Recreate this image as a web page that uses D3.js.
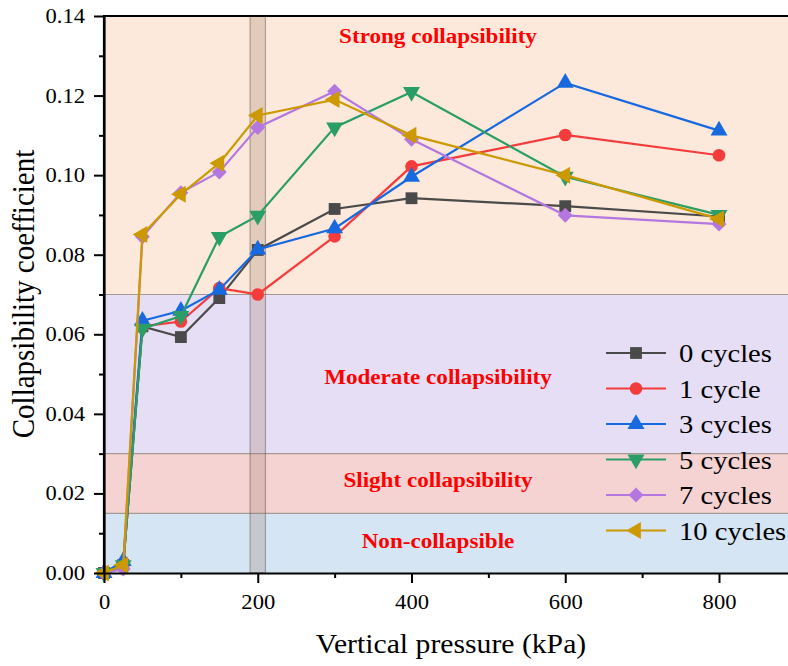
<!DOCTYPE html>
<html>
<head>
<meta charset="utf-8">
<script src="https://cdn.jsdelivr.net/npm/d3@7/dist/d3.min.js"></script>
<style>
  html, body { margin: 0; padding: 0; background: #ffffff; }
  svg { display: block; }
  text { font-family: "Liberation Serif", "Times New Roman", serif; fill: #000; }
</style>
</head>
<body>
<svg id="chart" width="788" height="666"></svg>
<script>
// Vertical pressure steps (kPa)
const pressures = [0, 25, 50, 100, 150, 200, 300, 400, 600, 800];

// Collapsibility coefficient for each number of wet-dry cycles
const cycles0  = [0.000, 0.002, 0.062, 0.0593, 0.0691, 0.0812, 0.0915, 0.0942, 0.0922, 0.0896];
const cycles1  = [0.000, 0.002, 0.062, 0.0632, 0.0716, 0.0700, 0.0846, 0.1022, 0.1101, 0.1050];
const cycles3  = [0.000, 0.003, 0.0634, 0.0659, 0.0712, 0.0813, 0.0866, 0.0996, 0.1232, 0.1112];
const cycles5  = [0.000, 0.002, 0.0614, 0.0646, 0.0845, 0.0898, 0.1120, 0.1209, 0.0996, 0.0900];
const cycles7  = [0.000, 0.001, 0.0845, 0.0956, 0.1008, 0.1120, 0.1211, 0.1090, 0.0899, 0.0877];
const cycles10 = [0.000, 0.002, 0.0851, 0.0952, 0.1030, 0.1150, 0.1190, 0.1100, 0.1000, 0.0890];

const seriesNames = ["0 cycles", "1 cycle", "3 cycles", "5 cycles", "7 cycles", "10 cycles"];
const seriesValues = [cycles0, cycles1, cycles3, cycles5, cycles7, cycles10];
const seriesColors = ["#4a4a4a", "#f53c3c", "#1769e0", "#2a9e66", "#b477e0", "#cc9a00"];
const seriesSymbols = ["square", "circle", "triangleUp", "triangleDown", "diamond", "triangleLeft"];

// Collapsibility grade zones
const zoneNames  = ["Non-collapsible", "Slight collapsibility", "Moderate collapsibility", "Strong collapsibility"];
const zoneLower  = [0, 0.015, 0.03, 0.07];
const zoneUpper  = [0.015, 0.03, 0.07, 0.14];
const zoneColors = ["#d5e5f4", "#f5d3d3", "#e6def5", "#fde9db"];

// Highlighted pressure window around 200 kPa
const windowRange = [190, 210];

const xTicks = [0, 200, 400, 600, 800];
const xMinorTicks = [100, 300, 500, 700];
const yTicks = [0, 0.02, 0.04, 0.06, 0.08, 0.10, 0.12, 0.14];
const yMinorTicks = [0.01, 0.03, 0.05, 0.07, 0.09, 0.11, 0.13];

const svg = d3.select("#chart");
const plotLeft = 104, plotTop = 16, plotBottom = 573;
const stretch = 1.1; // glyphs are drawn slightly wide

const x = d3.scaleLinear().domain([0, 900]).range([plotLeft, plotLeft + 900 * (615 / 800)]);
const y = d3.scaleLinear().domain([0, 0.14]).range([plotBottom, plotTop]);
const plotRight = x(900);

// text helper: places a horizontally widened label
function label(parent, tx, ty, str, size, anchor) {
  return parent.append("text")
    .attr("transform", `translate(${tx},${ty}) scale(${stretch},1)`)
    .attr("text-anchor", anchor || "start")
    .style("font-size", size + "px")
    .text(str);
}

// grade zones
const zones = svg.append("g");
zoneLower.forEach((lo, i) => {
  zones.append("rect")
    .attr("x", plotLeft).attr("width", plotRight - plotLeft)
    .attr("y", y(zoneUpper[i])).attr("height", y(lo) - y(zoneUpper[i]))
    .attr("fill", zoneColors[i]);
});
zoneLower.slice(1).forEach(lo => {
  zones.append("line")
    .attr("x1", plotLeft).attr("x2", plotRight)
    .attr("y1", y(lo)).attr("y2", y(lo))
    .attr("stroke", "#a39a94").attr("stroke-width", 1.2);
});

// pressure window
svg.append("rect")
  .attr("x", x(windowRange[0])).attr("width", x(windowRange[1]) - x(windowRange[0]))
  .attr("y", plotTop).attr("height", plotBottom - plotTop)
  .attr("fill", "rgba(150,115,95,0.25)")
  .attr("stroke", "rgba(90,80,80,0.45)").attr("stroke-width", 1.2);

// zone labels: baselines sit at fixed offsets inside each zone
const zoneLabelBaseline = [548, 487, 384, 43];
zoneNames.forEach((name, i) => {
  label(svg, 438, zoneLabelBaseline[i], name, 21, "middle")
    .style("font-weight", "bold").style("fill", "#ff0000");
});

// series lines and markers
const line = d3.line().x((d, i) => x(pressures[i])).y(d => y(d));
const symbolTypes = {
  square: d3.symbolSquare,
  circle: d3.symbolCircle,
  triangleUp: d3.symbolTriangle,
  triangleDown: d3.symbolTriangle,
  diamond: d3.symbolSquare,
  triangleLeft: d3.symbolTriangle
};
const symbolRotate = { square: 0, circle: 0, triangleUp: 0, triangleDown: 180, diamond: 45, triangleLeft: -90 };
const symbolSize = { square: 140, circle: 125, triangleUp: 125, triangleDown: 125, diamond: 112, triangleLeft: 125 };

function drawSymbol(g, type, cx, cy, color) {
  g.append("path")
    .attr("d", d3.symbol().type(symbolTypes[type]).size(symbolSize[type])())
    .attr("transform", `translate(${cx},${cy}) rotate(${symbolRotate[type]})`)
    .attr("fill", color);
}

seriesValues.forEach((vals, s) => {
  const g = svg.append("g");
  g.append("path").datum(vals)
    .attr("d", line).attr("fill", "none")
    .attr("stroke", seriesColors[s]).attr("stroke-width", 2.2);
  vals.forEach((v, i) => drawSymbol(g, seriesSymbols[s], x(pressures[i]), y(v), seriesColors[s]));
});

// axes
const xAxis = svg.append("g").attr("transform", `translate(0,${plotBottom})`)
  .call(d3.axisBottom(x).tickValues(xTicks).tickFormat(d3.format("d")).tickSize(10).tickSizeOuter(0));
svg.append("g").attr("transform", `translate(0,${plotBottom})`)
  .call(d3.axisBottom(x).tickValues(xMinorTicks).tickFormat("").tickSize(5).tickSizeOuter(0))
  .select(".domain").remove();
const yAxis = svg.append("g").attr("transform", `translate(${plotLeft},0)`)
  .call(d3.axisLeft(y).tickValues(yTicks).tickFormat(d3.format(".2f")).tickSize(10).tickSizeOuter(0));
svg.append("g").attr("transform", `translate(${plotLeft},0)`)
  .call(d3.axisLeft(y).tickValues(yMinorTicks).tickFormat("").tickSize(5).tickSizeOuter(0))
  .select(".domain").remove();

svg.selectAll(".domain").attr("stroke", "#000").attr("stroke-width", 2.2);
svg.selectAll(".tick line").attr("stroke", "#000").attr("stroke-width", 2);
xAxis.selectAll(".tick text")
  .attr("y", 21).attr("dy", "0.71em")
  .attr("transform", `scale(${stretch},1)`)
  .style("font-size", "20.5px").style("font-family", "'Liberation Serif', serif");
yAxis.selectAll(".tick text")
  .attr("x", -19 / stretch)
  .attr("transform", `scale(${stretch},1)`)
  .style("font-size", "20.5px").style("font-family", "'Liberation Serif', serif");

// frame lines along the top and left edges
svg.append("line").attr("x1", plotLeft - 1).attr("x2", plotRight).attr("y1", plotTop).attr("y2", plotTop)
  .attr("stroke", "#000").attr("stroke-width", 2.2);
svg.append("line").attr("x1", plotLeft).attr("x2", plotLeft).attr("y1", plotTop - 1).attr("y2", plotBottom)
  .attr("stroke", "#000").attr("stroke-width", 2.2);

// axis titles
label(svg, 451, 653, "Vertical pressure (kPa)", 27, "middle");
svg.append("text")
  .attr("transform", `translate(34,294) rotate(-90) scale(1,${stretch})`)
  .attr("text-anchor", "middle")
  .style("font-size", "29px").text("Collapsibility coefficient");

// legend
const legend = svg.append("g");
seriesNames.forEach((name, s) => {
  const ly = 353 + s * 35.5;
  legend.append("line").attr("x1", 606).attr("x2", 666).attr("y1", ly).attr("y2", ly)
    .attr("stroke", seriesColors[s]).attr("stroke-width", 2.2);
  drawSymbol(legend, seriesSymbols[s], 636, ly, seriesColors[s]);
  label(legend, 679, ly + 9, name, 26, "start");
});
</script>
</body>
</html>
